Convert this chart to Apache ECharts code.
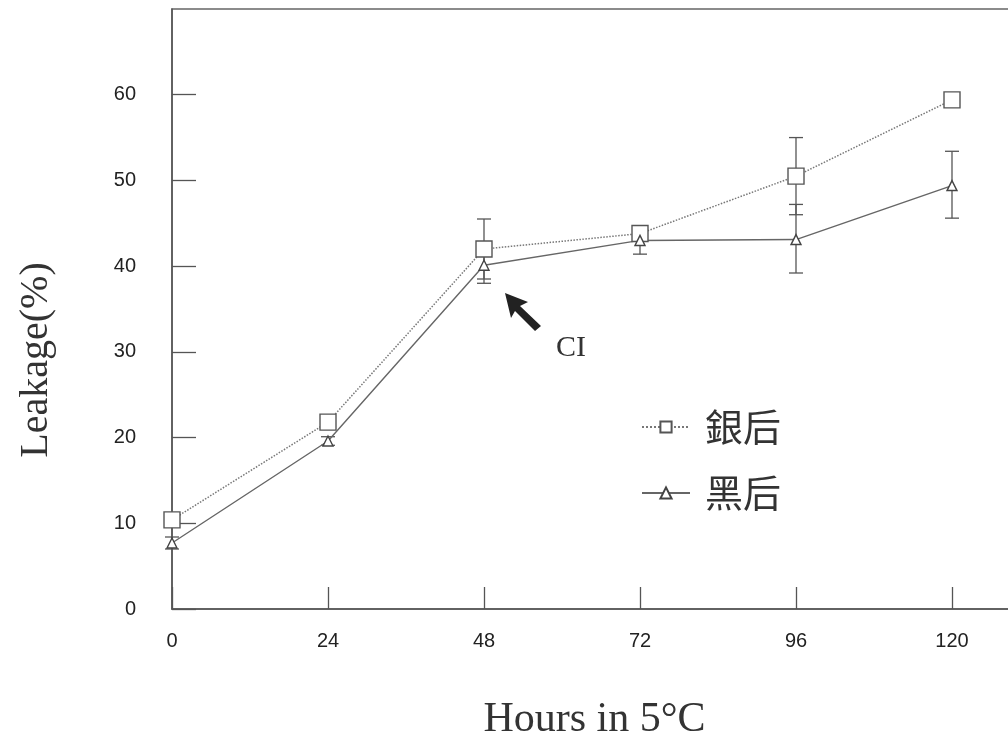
<!DOCTYPE html>
<html>
<head>
<meta charset="utf-8">
<script src="https://cdn.jsdelivr.net/npm/echarts@6/dist/echarts.min.js"></script>
<style>
  html, body { margin: 0; padding: 0; background: #fff; }
  #chart { width: 1008px; height: 744px; }
</style>
</head>
<body>
<div id="chart"></div>
<script>
// 时间点（小时）
const hours = [0, 24, 48, 72, 96, 120];
// 银后
const silverMean = [10.4, 21.8, 42.0, 43.8, 50.5, 59.4];
const silverLow = [9.8, 21.3, 38.5, 43.0, 46.0, 58.6];
const silverHigh = [11.0, 22.3, 45.5, 44.6, 55.0, 60.2];
// 黑后
const blackMean = [7.7, 19.6, 40.1, 43.0, 43.1, 49.4];
const blackLow = [7.0, 19.1, 38.0, 41.4, 39.2, 45.6];
const blackHigh = [8.4, 20.1, 42.0, 44.2, 47.2, 53.4];
const yTicks = [0, 10, 20, 30, 40, 50, 60];

const chart = echarts.init(document.getElementById('chart'));

const toPts = (ys) => hours.map((h, i) => [h, ys[i]]);
const toErr = (lo, hi) => hours.map((h, i) => [h, lo[i], hi[i]]);

// 误差线
function errorBar(params, api) {
  const x = api.value(0);
  const lo = api.coord([x, api.value(1)]);
  const hi = api.coord([x, api.value(2)]);
  const cap = 7;
  const style = { stroke: '#555', lineWidth: 1.3 };
  return {
    type: 'group',
    children: [
      { type: 'line', shape: { x1: lo[0], y1: lo[1], x2: hi[0], y2: hi[1] }, style },
      { type: 'line', shape: { x1: lo[0] - cap, y1: lo[1], x2: lo[0] + cap, y2: lo[1] }, style },
      { type: 'line', shape: { x1: hi[0] - cap, y1: hi[1], x2: hi[0] + cap, y2: hi[1] }, style }
    ]
  };
}

const option = {
  backgroundColor: '#fff',
  animation: false,
  grid: {
    left: 172,
    top: 9,
    width: 845,
    height: 600,
    outerBoundsMode: 'none',
    show: true,
    borderColor: '#666',
    borderWidth: 1.5
  },
  legend: {
    orient: 'vertical',
    left: 636,
    top: 403,
    itemGap: 28,
    itemWidth: 48,
    itemHeight: 14,
    data: ['銀后', '黑后'],
    textStyle: {
      fontFamily: 'Noto Sans CJK TC',
      fontSize: 38,
      color: '#333',
      padding: [0, 0, 0, 10]
    }
  },
  xAxis: {
    type: 'value',
    min: 0,
    max: 130,
    interval: 24,
    name: 'Hours in 5°C',
    nameLocation: 'middle',
    nameGap: 90,
    nameTextStyle: { fontFamily: 'Liberation Serif', fontSize: 42, color: '#333' },
    axisLine: { lineStyle: { color: '#555', width: 1.5 } },
    axisTick: { inside: true, length: 22, lineStyle: { color: '#555', width: 1.3 } },
    axisLabel: {
      showMaxLabel: false,
      margin: 22,
      fontFamily: 'Liberation Sans',
      fontSize: 20,
      color: '#222'
    },
    splitLine: { show: false }
  },
  yAxis: {
    type: 'value',
    min: 0,
    max: 70,
    interval: 10,
    axisLine: { lineStyle: { color: '#555', width: 1.5 } },
    axisTick: { inside: true, length: 24, lineStyle: { color: '#555', width: 1.3 } },
    axisLabel: {
      showMaxLabel: false,
      margin: 36,
      fontFamily: 'Liberation Sans',
      fontSize: 20,
      color: '#222',
      formatter: (v) => (yTicks.includes(v) ? String(v) : '')
    },
    splitLine: { show: false }
  },
  series: [
    {
      name: '銀后',
      type: 'line',
      data: toPts(silverMean),
      symbol: 'rect',
      symbolSize: 16,
      itemStyle: { color: '#fff', borderColor: '#555', borderWidth: 1.4 },
      lineStyle: { color: '#777', width: 1.5, type: 'dotted' },
      z: 3
    },
    {
      name: '黑后',
      type: 'line',
      data: toPts(blackMean),
      symbol: 'triangle',
      symbolSize: 10,
      itemStyle: { color: '#fff', borderColor: '#444', borderWidth: 1.4 },
      lineStyle: { color: '#666', width: 1.4 },
      z: 3
    },
    {
      type: 'custom',
      renderItem: errorBar,
      data: toErr(silverLow, silverHigh),
      silent: true,
      z: 2
    },
    {
      type: 'custom',
      renderItem: errorBar,
      data: toErr(blackLow, blackHigh),
      silent: true,
      z: 2
    }
  ],
  graphic: [
    {
      type: 'text',
      x: 36,
      y: 360,
      rotation: Math.PI / 2,
      style: {
        text: 'Leakage(%)',
        font: '40px "Liberation Serif"',
        fill: '#333',
        align: 'center',
        verticalAlign: 'middle'
      }
    },
    {
      type: 'polygon',
      shape: { points: [[505, 293], [528, 302], [520, 306], [541, 326], [535, 331], [515, 311], [511, 318]] },
      style: { fill: '#222' }
    },
    {
      type: 'text',
      left: 556,
      top: 333,
      style: { text: 'CI', font: '30px "Liberation Serif"', fill: '#333' }
    }
  ]
};

chart.setOption(option);
</script>
</body>
</html>
